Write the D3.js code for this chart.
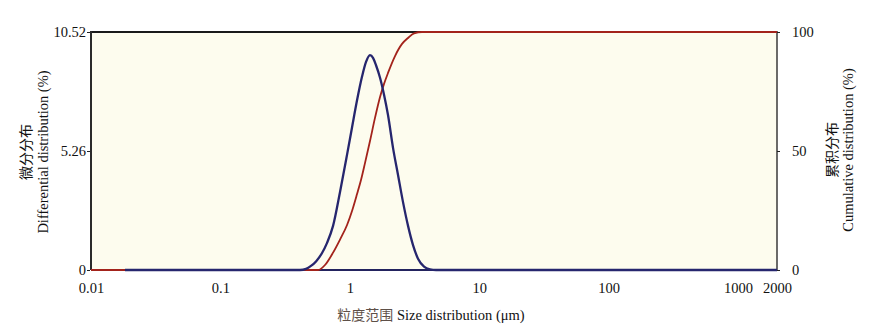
<!DOCTYPE html>
<html>
<head>
<meta charset="utf-8">
<script src="https://cdn.jsdelivr.net/npm/d3@7/dist/d3.min.js"></script>
<style>
  html, body { margin: 0; padding: 0; background: #ffffff; }
  svg { display: block; }
  text { font-family: "Liberation Serif", "DejaVu Serif", serif; fill: #111; }
  .cjk { font-family: "Noto Sans CJK SC", sans-serif; }
</style>
</head>
<body>
<svg id="chart" width="888" height="333"></svg>
<script>
// Particle size (µm) and differential distribution (%)
const diffSizes = [0.0183, 0.412, 0.459, 0.501, 0.548, 0.610, 0.667, 0.742, 0.840, 0.952, 1.040, 1.137, 1.243, 1.334, 1.432, 1.511, 1.594, 1.712, 1.838, 1.973, 2.157, 2.358, 2.577, 2.818, 3.079, 3.365, 3.745, 4.167, 4.637, 2000];
const diffValues = [0, 0, 0.05, 0.18, 0.38, 0.75, 1.20, 1.95, 3.45, 5.10, 6.30, 7.50, 8.55, 9.20, 9.50, 9.38, 9.05, 8.50, 7.75, 6.85, 5.40, 4.20, 3.00, 1.95, 1.10, 0.50, 0.15, 0.03, 0, 0];

// Particle size (µm) and cumulative distribution (%)
const cumSizes = [0.01, 0.568, 0.643, 0.742, 0.840, 0.952, 1.040, 1.137, 1.220, 1.311, 1.432, 1.565, 1.712, 1.838, 1.973, 2.235, 2.532, 2.818, 3.134, 3.614, 2000];
const cumValues = [0, 0, 2.1, 7.3, 12.8, 18.9, 24.8, 31.9, 37.8, 45.0, 54.2, 63.9, 72.7, 78.2, 82.8, 89.9, 95.0, 97.5, 99.4, 100, 100];

// Axis ticks
const xTicks = [0.01, 0.1, 1, 10, 100, 1000, 2000];
const xTickLabels = ["0.01", "0.1", "1", "10", "100", "1000", "2000"];
const leftTicks = [0, 5.26, 10.52];
const rightTicks = [0, 50, 100];

const svg = d3.select("#chart");
const L = 91, R = 777, T = 32, B = 270;

const x = d3.scaleLog().domain([0.01, 2000]).range([L, R]);
const yL = d3.scaleLinear().domain([0, 10.52]).range([B, T]);
const yR = d3.scaleLinear().domain([0, 100]).range([B, T]);

// plot background
svg.append("rect")
  .attr("x", L).attr("y", T).attr("width", R - L).attr("height", B - T)
  .attr("fill", "#fdfcee");

// frame
svg.append("line").attr("x1", L).attr("x2", R).attr("y1", T).attr("y2", T)
  .attr("stroke", "#1a1a1a").attr("stroke-width", 2.2);
svg.append("line").attr("x1", L).attr("x2", L).attr("y1", T - 1).attr("y2", B)
  .attr("stroke", "#2a2a2a").attr("stroke-width", 2);
svg.append("line").attr("x1", R).attr("x2", R).attr("y1", T - 1).attr("y2", B)
  .attr("stroke", "#3a3a3a").attr("stroke-width", 1.5);
svg.append("line").attr("x1", L).attr("x2", R).attr("y1", B).attr("y2", B)
  .attr("stroke", "#23235e").attr("stroke-width", 2);

// left axis
const gL = svg.append("g").attr("transform", `translate(${L - 1},0)`)
  .call(d3.axisLeft(yL).tickValues(leftTicks).tickSize(3).tickPadding(1)
    .tickFormat(d => d === 0 ? "0" : d.toFixed(2)));
gL.select(".domain").remove();
gL.selectAll(".tick line").attr("stroke", "#222");
gL.selectAll("text").style("font-family", "Liberation Serif").style("font-size", "14.5px").attr("fill", "#111");

// right axis
const gR = svg.append("g").attr("transform", `translate(${R},0)`)
  .call(d3.axisRight(yR).tickValues(rightTicks).tickSize(3).tickPadding(12));
gR.select(".domain").remove();
gR.selectAll(".tick line").attr("stroke", "#222");
gR.selectAll("text").style("font-family", "Liberation Serif").style("font-size", "14.5px").attr("fill", "#111");

// bottom axis
const gB = svg.append("g").attr("transform", `translate(0,${B})`)
  .call(d3.axisBottom(x).tickValues(xTicks).tickSize(0).tickPadding(13)
    .tickFormat((d, i) => xTickLabels[i]));
gB.select(".domain").remove();
gB.selectAll("text").style("font-family", "Liberation Serif").style("font-size", "14.5px").attr("fill", "#111");

// curves: cumulative (red) under differential (navy)
const cumLine = d3.line().x((d, i) => x(cumSizes[i])).y(d => yR(d)).curve(d3.curveMonotoneX);
const diffLine = d3.line().x((d, i) => x(diffSizes[i])).y(d => yL(d)).curve(d3.curveMonotoneX);

svg.append("path").datum(cumValues).attr("d", cumLine)
  .attr("fill", "none").attr("stroke", "#a3231b").attr("stroke-width", 1.8);
svg.append("path").datum(diffValues).attr("d", diffLine)
  .attr("fill", "none").attr("stroke", "#26266e").attr("stroke-width", 2.3);

// left axis title
const tl = svg.append("g").attr("transform", "translate(0,152)");
tl.append("text").attr("class", "cjk").attr("transform", "translate(25,0) rotate(-90)")
  .attr("text-anchor", "middle").attr("dominant-baseline", "central")
  .style("font-size", "14px").attr("fill", "#5e5048").text("微分分布");
tl.append("text").attr("transform", "translate(43,0) rotate(-90)")
  .attr("text-anchor", "middle").attr("dominant-baseline", "central")
  .style("font-size", "14.5px").text("Differential distribution (%)");

// right axis title
const tr = svg.append("g").attr("transform", "translate(0,150)");
tr.append("text").attr("class", "cjk").attr("transform", "translate(831,0) rotate(-90)")
  .attr("text-anchor", "middle").attr("dominant-baseline", "central")
  .style("font-size", "14px").attr("fill", "#4c5680").text("累积分布");
tr.append("text").attr("transform", "translate(848,0) rotate(-90)")
  .attr("text-anchor", "middle").attr("dominant-baseline", "central")
  .style("font-size", "14.5px").text("Cumulative distribution (%)");

// bottom axis title
const tb = svg.append("text").attr("x", 431).attr("y", 320).attr("text-anchor", "middle")
  .style("font-size", "14.5px");
tb.append("tspan").attr("class", "cjk").attr("fill", "#5e5048").style("font-size", "14px").text("粒度范围");
tb.append("tspan").text(" Size distribution (μm)");
</script>
</body>
</html>
